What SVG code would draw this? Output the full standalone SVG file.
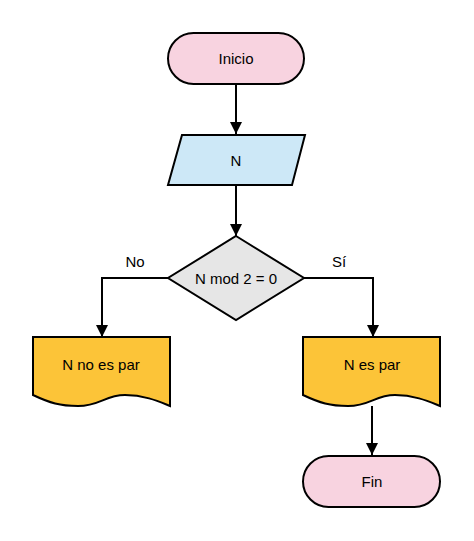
<svg xmlns="http://www.w3.org/2000/svg" width="474" height="541" viewBox="0 0 474 541">
<defs>
<style>
.s{stroke:#000;stroke-width:2;}
.t{font-family:"Liberation Sans",Arial,sans-serif;font-size:15px;fill:#000;text-anchor:middle;dominant-baseline:central;}
.c{fill:none;stroke:#000;stroke-width:2;}
</style>
<marker id="ah" viewBox="0 0 10 10" refX="10" refY="5" markerWidth="6" markerHeight="7.5" markerUnits="strokeWidth" orient="auto">
<path d="M0,0 L10,5 L0,10 z" fill="#000"/>
</marker>
</defs>
<rect width="474" height="541" fill="#fff"/>
<g id="connectors">
<path class="c" d="M236,84 V134" marker-end="url(#ah)"/>
<path class="c" d="M236,185 V236" marker-end="url(#ah)"/>
<path class="c" d="M168,278 H102 V337" marker-end="url(#ah)"/>
<path class="c" d="M304,278 H373 V337" marker-end="url(#ah)"/>
<path class="c" d="M372,406 V455" marker-end="url(#ah)"/>
<text class="t" x="135" y="261">No</text>
<text class="t" x="339" y="261">Sí</text>
</g>
<g id="inicio">
<rect class="s" x="168" y="33" width="136" height="51" rx="25.5" fill="#F8D3E0"/>
<text class="t" x="236" y="58.5">Inicio</text>
</g>
<g id="entrada">
<polygon class="s" points="182,135 305,135 292,185 168,185" fill="#CDE8F7"/>
<text class="t" x="236" y="160">N</text>
</g>
<g id="decision">
<polygon class="s" points="236,236 304,278 236,320 168,278" fill="#E6E6E6"/>
<text class="t" x="236" y="278">N mod 2 = 0</text>
</g>
<g id="nopar">
<path class="s" d="M33,337 H170 V406 C160,402 145,395 125,395 C105,395 100,406 78,406 C60,406 50,403 33,395 Z" fill="#FCC438"/>
<text class="t" x="101" y="364">N no es par</text>
</g>
<g id="espar">
<path class="s" d="M303,337 H440 V406 C430,402 415,395 395,395 C375,395 370,406 348,406 C330,406 320,403 303,395 Z" fill="#FCC438"/>
<text class="t" x="372" y="364">N es par</text>
</g>
<g id="fin">
<rect class="s" x="303" y="456" width="137" height="51" rx="25.5" fill="#F8D3E0"/>
<text class="t" x="372" y="481.5">Fin</text>
</g>
</svg>
